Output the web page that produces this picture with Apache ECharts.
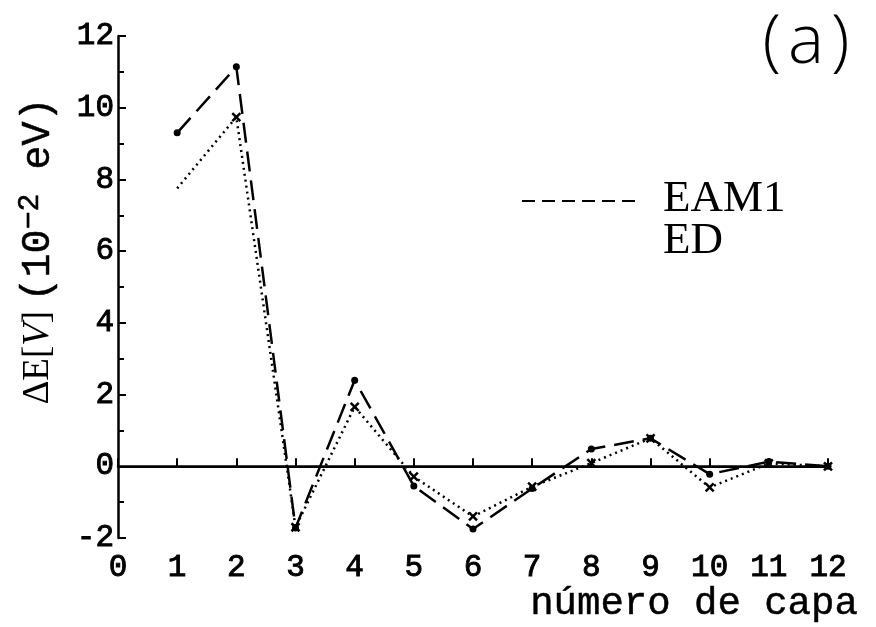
<!DOCTYPE html>
<html>
<head>
<meta charset="utf-8">
<script src="https://cdn.jsdelivr.net/npm/echarts@6/dist/echarts.min.js"></script>
<style>html,body{margin:0;padding:0;background:#fff}#c{width:876px;height:627px}</style>
</head>
<body>
<div id="c"></div>
<script>
const layers = [1, 2, 3, 4, 5, 6, 7, 8, 9, 10, 11, 12];
const eam1 = [9.30, 11.14, -1.72, 2.40, -0.55, -1.75, -0.62, 0.48, 0.78, -0.22, 0.13, 0.00];
const ed = [7.75, 9.74, -1.70, 1.66, -0.29, -1.40, -0.57, 0.09, 0.78, -0.59, 0.08, 0.00];
const seriesNames = ['EAM1', 'ED'];
const xTicks = { min: 0, max: 12, interval: 1 };
const yTicks = { min: -2, max: 12, interval: 2 };

const chart = echarts.init(document.getElementById('c'), null, { renderer: 'canvas' });
const mono = 'Liberation Mono, Courier New, monospace';
const serif = 'Liberation Serif, Times New Roman, serif';
const crossPath = 'path://M0,0L10,10M10,0L0,10';

const eamData = layers.map((x, i) => [x, eam1[i]]);
const edData = layers.map((x, i) => i === 0
  ? { value: [x, ed[i]], symbol: 'none' }
  : [x, ed[i]]);

const tickLabel = { color: '#000', fontFamily: mono, fontSize: 31, textBorderColor: '#000', textBorderWidth: 0.9 };

chart.setOption({
  animation: false,
  backgroundColor: '#fff',
  grid: { left: 118, right: 48, top: 36, bottom: 89 },
  xAxis: {
    type: 'value', min: xTicks.min, max: xTicks.max, interval: xTicks.interval,
    axisLine: { show: true, lineStyle: { color: '#000', width: 2.5 } },
    axisTick: { show: true, inside: true, length: 8, lineStyle: { color: '#000', width: 2 } },
    axisLabel: Object.assign({ margin: 14 }, tickLabel),
    splitLine: { show: false }
  },
  yAxis: {
    type: 'value', min: yTicks.min, max: yTicks.max, interval: yTicks.interval,
    axisLine: { show: true, lineStyle: { color: '#000', width: 2.5 } },
    axisTick: { show: true, inside: true, length: 8, lineStyle: { color: '#000', width: 2 } },
    minorTick: { show: true, splitNumber: 2, length: 6, lineStyle: { color: '#000', width: 2 } },
    axisLabel: Object.assign({ margin: 4 }, tickLabel),
    splitLine: { show: false }
  },
  series: [
    {
      name: seriesNames[0], type: 'line', data: eamData,
      symbol: 'circle', symbolSize: 7,
      itemStyle: { color: '#000' },
      lineStyle: { color: '#000', width: 2.5, type: [20, 9] },
      markLine: {
        silent: true, symbol: 'none', label: { show: false },
        lineStyle: { color: '#000', width: 2.2, type: 'solid' },
        data: [{ yAxis: 0 }]
      },
      z: 3
    },
    {
      name: seriesNames[1], type: 'line', data: edData,
      symbol: crossPath, symbolSize: 8,
      itemStyle: { color: '#000', borderColor: '#000', borderWidth: 2.5 },
      lineStyle: { color: '#000', width: 2.5, type: [2, 4] },
      z: 2
    }
  ],
  graphic: [
    {
      type: 'text', x: 806, y: 44,
      style: {
        text: '{p|(}{a|a}{p|)}', align: 'center', verticalAlign: 'middle', fill: '#000',
        rich: {
          p: { fontFamily: '"Open Sans", "Liberation Sans", sans-serif', fontWeight: 300, fontSize: 68, fill: '#000' },
          a: { fontFamily: '"Open Sans", "Liberation Sans", sans-serif', fontWeight: 300, fontSize: 68, fill: '#000', padding: [0, 7, 0, 7] }
        }
      }
    },
    {
      type: 'line', shape: { x1: 522, y1: 201, x2: 640, y2: 201 },
      style: { stroke: '#000', lineWidth: 2.2, lineDash: [13, 7] }
    },
    {
      type: 'text', x: 663, y: 199,
      style: { text: seriesNames[0], font: '45px "Liberation Serif", serif', fill: '#000', align: 'left', verticalAlign: 'middle' }
    },
    {
      type: 'text', x: 663, y: 241,
      style: { text: seriesNames[1], font: '45px "Liberation Serif", serif', fill: '#000', align: 'left', verticalAlign: 'middle' }
    },
    {
      type: 'text', x: 694, y: 604,
      style: { text: 'número de capa', font: '39px "Liberation Mono", monospace', fill: '#000', stroke: '#000', lineWidth: 0.5, align: 'center', verticalAlign: 'middle' }
    },
    {
      type: 'text', x: 38, y: 251, rotation: Math.PI / 2,
      style: {
        text: '{g|ΔE[}{gi|V}{g|] }{m|(10}{sup|−2}{m| eV)}',
        align: 'center', verticalAlign: 'middle', fill: '#000',
        rich: {
          g: { fontFamily: serif, fontSize: 37, fill: '#000' },
          gi: { fontFamily: serif, fontSize: 37, fontStyle: 'italic', fill: '#000' },
          m: { fontFamily: mono, fontSize: 40, fill: '#000', stroke: '#000', lineWidth: 0.5 },
          sup: { fontFamily: mono, fontSize: 30, fill: '#000', verticalAlign: 'top', padding: [0, 0, 16, 0], stroke: '#000', lineWidth: 0.5 }
        }
      }
    }
  ]
});
</script>
</body>
</html>
